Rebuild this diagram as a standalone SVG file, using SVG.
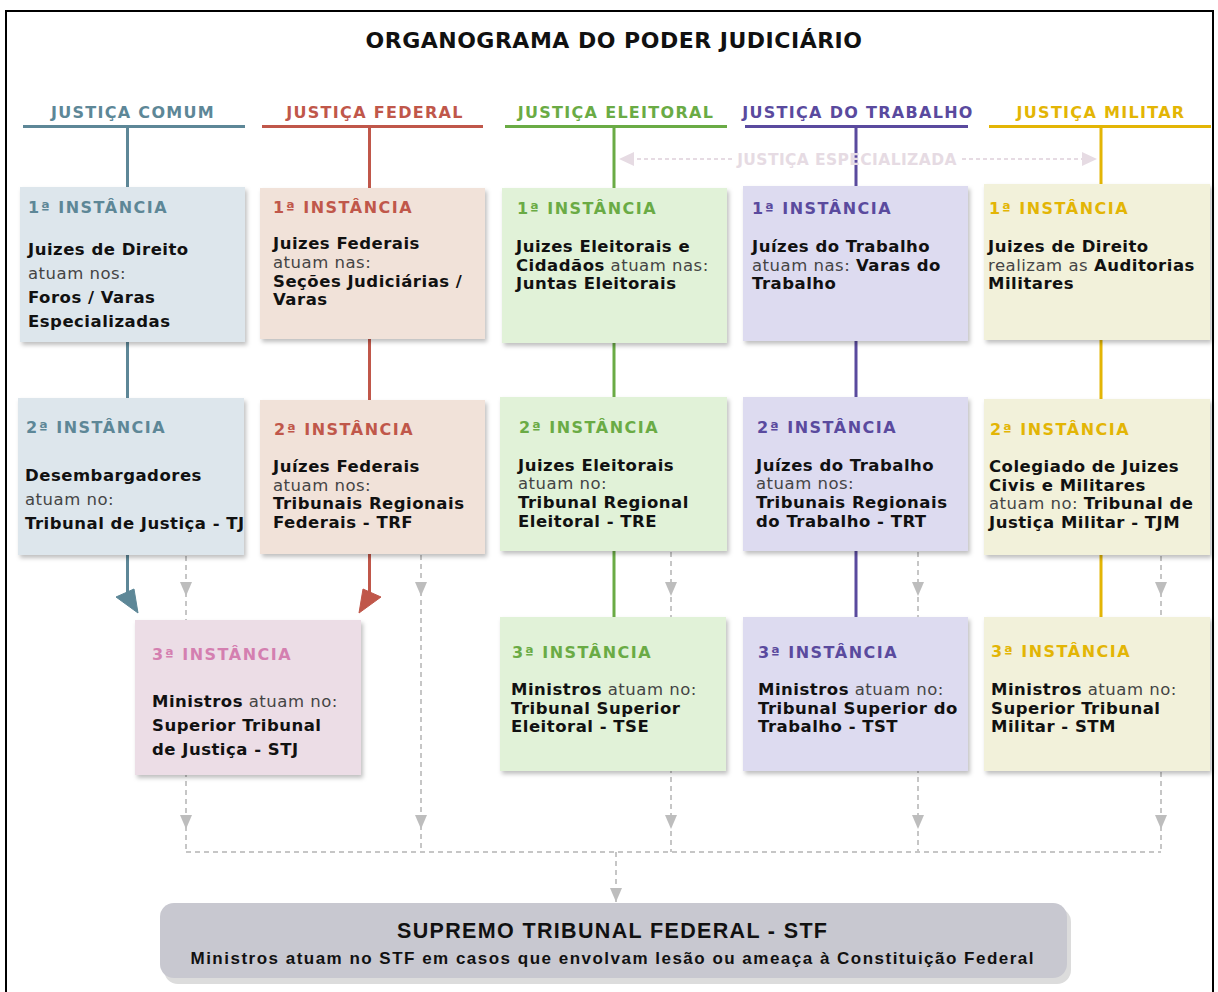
<svg xmlns="http://www.w3.org/2000/svg" width="1218" height="992" viewBox="0 0 1218 992">
<defs>
<style>
.title{font-family:"DejaVu Sans",Verdana,sans-serif;font-weight:bold;font-size:22px;fill:#111;letter-spacing:0.5px}
.col{font-family:"DejaVu Sans",Verdana,sans-serif;font-weight:bold;font-size:16px;letter-spacing:1.3px}
.h{font-family:"DejaVu Sans",Verdana,sans-serif;font-weight:bold;font-size:16px;letter-spacing:1.5px}
.t{font-family:"DejaVu Sans",Verdana,sans-serif;font-weight:bold;font-size:16.5px;letter-spacing:0.5px;fill:#111}
.n{font-weight:normal;fill:#444}
.esp{font-family:"DejaVu Sans",Verdana,sans-serif;font-weight:bold;font-size:15.5px;letter-spacing:0.4px;fill:#e6dbe3}
.stf{font-family:"Liberation Sans",Arial,sans-serif;font-weight:bold;fill:#111}
.box{filter:url(#sh)}
.dash{stroke:#c6c6c6;stroke-width:2;stroke-dasharray:5 4;fill:none}
.ga{fill:#bdbdbd}
.c1{stroke:#5d8797;fill:#5d8797}
.c2{stroke:#c0574a;fill:#c0574a}
.c3{stroke:#6aab45;fill:#6aab45}
.c4{stroke:#5a4a9e;fill:#5a4a9e}
.c5{stroke:#e3b505;fill:#e3b505}
.ln{stroke-width:3;fill:none}
</style>
<filter id="sh" x="-10%" y="-10%" width="125%" height="125%">
<feDropShadow dx="2" dy="3" stdDeviation="2" flood-color="#000" flood-opacity="0.25"/>
</filter>
</defs>
<rect width="1218" height="992" fill="#fff"/>
<rect x="6" y="11" width="1207" height="995" fill="none" stroke="#000" stroke-width="2"/>
<text class="title" x="614" y="48" text-anchor="middle">ORGANOGRAMA DO PODER JUDICIÁRIO</text>

<g id="column-headers">
<text class="col" x="133" y="118" text-anchor="middle" fill="#5d8797">JUSTIÇA COMUM</text>
<text class="col" x="375" y="118" text-anchor="middle" fill="#c0574a">JUSTIÇA FEDERAL</text>
<text class="col" x="616" y="118" text-anchor="middle" fill="#6aab45">JUSTIÇA ELEITORAL</text>
<text class="col" x="858" y="118" text-anchor="middle" fill="#5a4a9e">JUSTIÇA DO TRABALHO</text>
<text class="col" x="1101" y="118" text-anchor="middle" fill="#e3b505">JUSTIÇA MILITAR</text>
</g>

<g id="connectors">
<line class="c1 ln" x1="23" y1="126.5" x2="245" y2="126.5"/>
<line class="c2 ln" x1="262" y1="126.5" x2="483" y2="126.5"/>
<line class="c3 ln" x1="505" y1="126.5" x2="727" y2="126.5"/>
<line class="c4 ln" x1="745" y1="126.5" x2="968" y2="126.5"/>
<line class="c5 ln" x1="989" y1="126.5" x2="1211" y2="126.5"/>
<line class="c1 ln" x1="127.5" y1="126" x2="127.5" y2="597"/>
<polygon class="c1" points="116,597 134,589 138,613"/>
<line class="c2 ln" x1="369.5" y1="126" x2="369.5" y2="597"/>
<polygon class="c2" points="381,597 363,589 359,613"/>
<line class="c3 ln" x1="614" y1="126" x2="614" y2="618"/>
<line class="c4 ln" x1="856" y1="126" x2="856" y2="618"/>
<line class="c5 ln" x1="1101" y1="126" x2="1101" y2="618"/>
<line class="dash" x1="186" y1="556" x2="186" y2="852"/>
<line class="dash" x1="421" y1="555" x2="421" y2="852"/>
<line class="dash" x1="671" y1="552" x2="671" y2="852"/>
<line class="dash" x1="918" y1="552" x2="918" y2="852"/>
<line class="dash" x1="1161" y1="556" x2="1161" y2="852"/>
<polyline class="dash" points="186,852 1161,852"/>
<line class="dash" x1="616" y1="852" x2="616" y2="902"/>
<g class="ga">
<polygon points="180,582 192,582 186,596"/>
<polygon points="415,582 427,582 421,596"/>
<polygon points="665,582 677,582 671,596"/>
<polygon points="912,582 924,582 918,596"/>
<polygon points="1155,582 1167,582 1161,596"/>
<polygon points="180,815 192,815 186,829"/>
<polygon points="415,815 427,815 421,829"/>
<polygon points="665,815 677,815 671,829"/>
<polygon points="912,815 924,815 918,829"/>
<polygon points="1155,815 1167,815 1161,829"/>
<polygon points="610,888 622,888 616,902"/>
</g>
<line x1="630" y1="159" x2="732" y2="159" stroke="#e6dbe3" stroke-width="2" stroke-dasharray="4 3"/>
<line x1="962" y1="159" x2="1086" y2="159" stroke="#e6dbe3" stroke-width="2" stroke-dasharray="4 3"/>
<polygon points="619,159 634,152 634,166" fill="#e6dbe3"/>
<polygon points="1097,159 1082,152 1082,166" fill="#e6dbe3"/>
<text class="esp" x="847" y="165" text-anchor="middle">JUSTIÇA ESPECIALIZADA</text>
</g>

<g id="comum-1">
<rect class="box" x="20" y="187" width="225" height="155" fill="#dde6ec"/>
<text class="h" x="28" y="213" fill="#5d8797">1ª INSTÂNCIA</text>
<text class="t" x="28" y="255">Juizes de Direito</text>
<text class="t n" x="28" y="279">atuam nos:</text>
<text class="t" x="28" y="303">Foros / Varas</text>
<text class="t" x="28" y="327">Especializadas</text>
</g>
<g id="federal-1">
<rect class="box" x="260" y="188" width="225" height="151" fill="#f1e2d9"/>
<text class="h" x="273" y="213" fill="#c0574a">1ª INSTÂNCIA</text>
<text class="t" x="273" y="249">Juizes Federais</text>
<text class="t n" x="273" y="268">atuam nas:</text>
<text class="t" x="273" y="287">Seções Judiciárias /</text>
<text class="t" x="273" y="305">Varas</text>
</g>
<g id="eleitoral-1">
<rect class="box" x="502" y="188" width="225" height="155" fill="#e1f2d8"/>
<text class="h" x="517" y="214" fill="#6aab45">1ª INSTÂNCIA</text>
<text class="t" x="516" y="252">Juizes Eleitorais e</text>
<text class="t" x="516" y="271">Cidadãos<tspan class="n"> atuam nas:</tspan></text>
<text class="t" x="516" y="289">Juntas Eleitorais</text>
</g>
<g id="trabalho-1">
<rect class="box" x="743" y="186" width="225" height="155" fill="#dddbf0"/>
<text class="h" x="752" y="214" fill="#5a4a9e">1ª INSTÂNCIA</text>
<text class="t" x="752" y="252">Juízes do Trabalho</text>
<text class="t" x="752" y="271"><tspan class="n">atuam nas: </tspan>Varas do</text>
<text class="t" x="752" y="289">Trabalho</text>
</g>
<g id="militar-1">
<rect class="box" x="984" y="184" width="226" height="156" fill="#f2f1da"/>
<text class="h" x="989" y="214" fill="#e3b505">1ª INSTÂNCIA</text>
<text class="t" x="988" y="252">Juizes de Direito</text>
<text class="t" x="988" y="271"><tspan class="n">realizam as </tspan>Auditorias</text>
<text class="t" x="988" y="289">Militares</text>
</g>

<g id="comum-2">
<rect class="box" x="18" y="398" width="226" height="157" fill="#dde6ec"/>
<text class="h" x="26" y="433" fill="#5d8797">2ª INSTÂNCIA</text>
<text class="t" x="25" y="481">Desembargadores</text>
<text class="t n" x="25" y="505">atuam no:</text>
<text class="t" x="25" y="529" letter-spacing="0.3">Tribunal de Justiça - TJ</text>
</g>
<g id="federal-2">
<rect class="box" x="260" y="400" width="225" height="154" fill="#f1e2d9"/>
<text class="h" x="274" y="435" fill="#c0574a">2ª INSTÂNCIA</text>
<text class="t" x="273" y="472">Juízes Federais</text>
<text class="t n" x="273" y="491">atuam nos:</text>
<text class="t" x="273" y="509">Tribunais Regionais</text>
<text class="t" x="273" y="528">Federais - TRF</text>
</g>
<g id="eleitoral-2">
<rect class="box" x="500" y="397" width="227" height="154" fill="#e1f2d8"/>
<text class="h" x="519" y="433" fill="#6aab45">2ª INSTÂNCIA</text>
<text class="t" x="518" y="471">Juizes Eleitorais</text>
<text class="t n" x="518" y="489">atuam no:</text>
<text class="t" x="518" y="508">Tribunal Regional</text>
<text class="t" x="518" y="527">Eleitoral - TRE</text>
</g>
<g id="trabalho-2">
<rect class="box" x="743" y="397" width="225" height="154" fill="#dddbf0"/>
<text class="h" x="757" y="433" fill="#5a4a9e">2ª INSTÂNCIA</text>
<text class="t" x="756" y="471">Juízes do Trabalho</text>
<text class="t n" x="756" y="489">atuam nos:</text>
<text class="t" x="756" y="508">Tribunais Regionais</text>
<text class="t" x="756" y="527">do Trabalho - TRT</text>
</g>
<g id="militar-2">
<rect class="box" x="984" y="399" width="226" height="156" fill="#f2f1da"/>
<text class="h" x="990" y="435" fill="#e3b505">2ª INSTÂNCIA</text>
<text class="t" x="989" y="472">Colegiado de Juizes</text>
<text class="t" x="989" y="491">Civis e Militares</text>
<text class="t" x="989" y="509"><tspan class="n">atuam no: </tspan>Tribunal de</text>
<text class="t" x="989" y="528">Justiça Militar - TJM</text>
</g>

<g id="stj-3">
<rect class="box" x="135" y="620" width="226" height="155" fill="#ecdde6"/>
<text class="h" x="152" y="660" fill="#d47fb0">3ª INSTÂNCIA</text>
<text class="t" x="152" y="707">Ministros<tspan class="n"> atuam no:</tspan></text>
<text class="t" x="152" y="731">Superior Tribunal</text>
<text class="t" x="152" y="755">de Justiça - STJ</text>
</g>
<g id="eleitoral-3">
<rect class="box" x="500" y="617" width="226" height="154" fill="#e1f2d8"/>
<text class="h" x="512" y="658" fill="#6aab45">3ª INSTÂNCIA</text>
<text class="t" x="511" y="695">Ministros<tspan class="n"> atuam no:</tspan></text>
<text class="t" x="511" y="714">Tribunal Superior</text>
<text class="t" x="511" y="732">Eleitoral - TSE</text>
</g>
<g id="trabalho-3">
<rect class="box" x="743" y="617" width="225" height="154" fill="#dddbf0"/>
<text class="h" x="758" y="658" fill="#5a4a9e">3ª INSTÂNCIA</text>
<text class="t" x="758" y="695">Ministros<tspan class="n"> atuam no:</tspan></text>
<text class="t" x="758" y="714">Tribunal Superior do</text>
<text class="t" x="758" y="732">Trabalho - TST</text>
</g>
<g id="militar-3">
<rect class="box" x="984" y="617" width="226" height="154" fill="#f2f1da"/>
<text class="h" x="991" y="657" fill="#e3b505">3ª INSTÂNCIA</text>
<text class="t" x="991" y="695">Ministros<tspan class="n"> atuam no:</tspan></text>
<text class="t" x="991" y="714">Superior Tribunal</text>
<text class="t" x="991" y="732">Militar - STM</text>
</g>

<g id="stf">
<rect x="164" y="908" width="907" height="76" rx="14" fill="#dcdcdc"/>
<rect x="160" y="903" width="907" height="75" rx="14" fill="#c8c8d0"/>
<text class="stf" x="612" y="938" text-anchor="middle" font-size="21.5" textLength="430" lengthAdjust="spacing">SUPREMO TRIBUNAL FEDERAL - STF</text>
<text class="stf" x="612" y="964" text-anchor="middle" font-size="17" textLength="843" lengthAdjust="spacing">Ministros atuam no STF em casos que envolvam lesão ou ameaça à Constituição Federal</text>
</g>
</svg>
